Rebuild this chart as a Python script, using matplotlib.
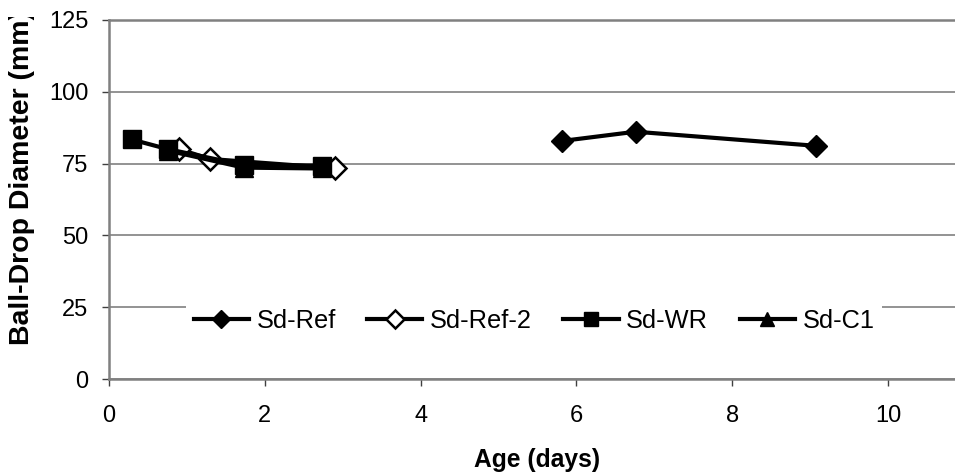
import matplotlib
matplotlib.use("Agg")
import matplotlib.pyplot as plt
from matplotlib.transforms import Bbox, TransformedBbox

plt.rcParams['font.family'] = ['Liberation Sans', 'DejaVu Sans']

# Data
ref_x = [5.82, 6.76, 9.07]
ref_y = [82.9, 86.1, 81.2]
ref2_x = [0.90, 1.30, 2.90]
ref2_y = [80.0, 76.6, 73.4]
wr_x = [0.29, 0.76, 1.73, 2.73]
wr_y = [83.4, 80.0, 74.5, 74.3]
c1_x = [0.76, 1.73, 2.73]
c1_y = [79.5, 73.6, 73.3]

series_names = ["Sd-Ref", "Sd-Ref-2", "Sd-WR", "Sd-C1"]
x_ticks = [0, 2, 4, 6, 8, 10]
y_ticks = [0, 25, 50, 75, 100, 125]

W, H = 955, 476
fig = plt.figure(figsize=(W / 100, H / 100), dpi=100)
ax = fig.add_axes([109 / W, 1 - 379 / H, 846 / W, 359 / H])

lw = 3.0
ax.plot(ref_x, ref_y, color='black', lw=lw, marker='D', ms=11,
        mfc='black', mec='black', label=series_names[0], zorder=3)
ax.plot(ref2_x, ref2_y, color='black', lw=lw, marker='D', ms=11,
        mfc='white', mec='black', mew=1.8, label=series_names[1], zorder=4)
ax.plot(wr_x, wr_y, color='black', lw=lw, marker='s', ms=12.5,
        mfc='black', mec='black', label=series_names[2], zorder=5)
ax.plot(c1_x, c1_y, color='black', lw=lw, marker='^', ms=12.5,
        mfc='black', mec='black', label=series_names[3], zorder=6)

ax.set_xlim(0, 846 / 77.9)
ax.set_ylim(0, 125)
ax.set_xticks(x_ticks)
ax.set_yticks(y_ticks)
ax.set_xticklabels([str(v) for v in x_ticks])
ax.set_yticklabels([str(v) for v in y_ticks])

ax.yaxis.grid(True, color='#808080', lw=1.2)
ax.set_axisbelow(True)
for s in ['left', 'bottom', 'top']:
    ax.spines[s].set_color('#808080')
    ax.spines[s].set_linewidth(1.8)
ax.spines['right'].set_visible(False)

ax.tick_params(axis='x', direction='out', length=5, width=1, color='#404040',
               labelsize=17, pad=14)
ax.tick_params(axis='y', direction='out', length=5, width=1, color='#404040',
               labelsize=17, pad=10)

ax.set_xlabel("Age (days)", fontsize=17.7, fontweight='bold')
ax.xaxis.label.set_va('baseline')
ax.xaxis.set_label_coords((537 - 109) / 846, -(466.7 - 379) / 359)

ylab = fig.text(21.7 / W, 1 - 177.5 / H, "Ball-Drop Diameter (mm)",
                rotation=90, ha='center', va='center',
                fontsize=20.5, fontweight='bold')
ylab.set_clip_box(TransformedBbox(Bbox([[0, 0], [1, 1 - 17 / H]]), fig.transFigure))
ylab.set_clip_on(True)

leg = ax.legend(loc='center', bbox_to_anchor=((534 - 109) / 846, (379 - 321) / 359),
                ncol=4, fontsize=18.3, frameon=True, fancybox=False,
                facecolor='white', edgecolor='none', framealpha=1,
                handlelength=2.17, handletextpad=0.3, columnspacing=1.24,
                markerscale=0.8, borderpad=0.3, borderaxespad=0)
leg.set_zorder(10)

fig.savefig("out.png", dpi=100)
